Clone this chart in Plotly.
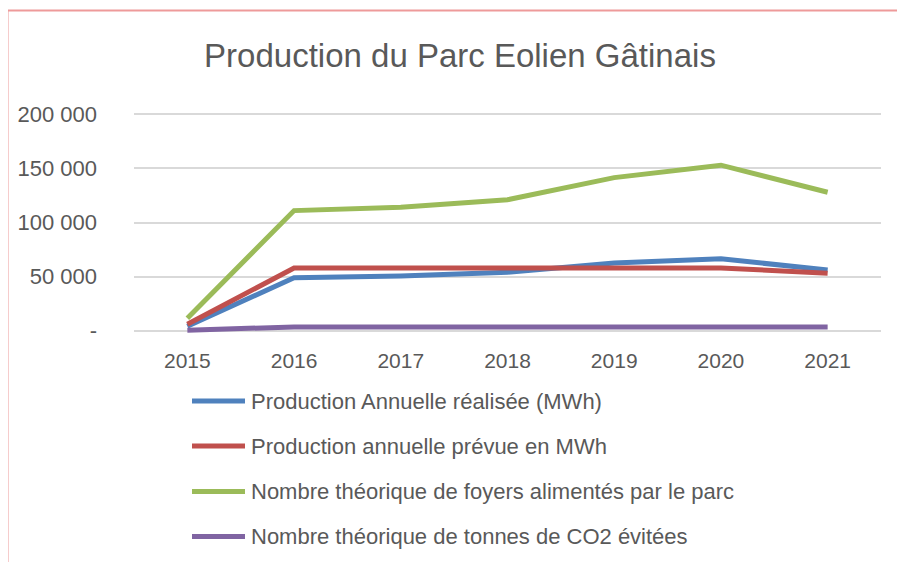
import plotly.graph_objects as go

years = ["2015", "2016", "2017", "2018", "2019", "2020", "2021"]
production_realisee = [4000, 49000, 50500, 54000, 62500, 66500, 56000]
production_prevue = [6000, 58000, 58000, 58000, 58000, 58000, 53000]
foyers = [11500, 111000, 114000, 121000, 141500, 153000, 128000]
co2_evite = [500, 3400, 3400, 3400, 3400, 3500, 3500]

series_names = [
    "Production Annuelle réalisée (MWh)",
    "Production annuelle prévue en MWh",
    "Nombre théorique de foyers alimentés par le parc",
    "Nombre théorique de tonnes de CO2 évitées",
]
series_values = [production_realisee, production_prevue, foyers, co2_evite]
series_colors = ["#4F81BD", "#C0504D", "#9BBB59", "#8064A2"]

y_tickvals = [0, 50000, 100000, 150000, 200000]
y_ticktext = ["-", "50 000", "100 000", "150 000", "200 000"]

FONT = "Liberation Sans, Arial, sans-serif"
TXT = "#595959"

fig = go.Figure()
for i, (name, vals, col) in enumerate(zip(series_names, series_values, series_colors)):
    fig.add_trace(go.Scatter(
        x=years, y=vals, name=name, mode="lines",
        line=dict(color=col, width=5),
        showlegend=False,
    ))

# page has an 8px body margin: work in screen px and convert
O = 8
W, H = 905 - O, 562 - O
L, R, T, B = 134 - O, 881 - O, 110 - O, 335 - O  # figure px


def xp(sx):
    return (sx - O - L) / (R - L)


def yp(sy):
    return (B - (sy - O)) / (B - T)


border_col = "#EE9A9A"
fig.add_shape(type="line", xref="paper", yref="paper",
              x0=xp(7.5), x1=xp(7.5), y0=yp(575), y1=yp(10.5),
              line=dict(color=border_col, width=2))
fig.add_shape(type="line", xref="paper", yref="paper",
              x0=xp(7.5), x1=xp(915), y0=yp(10.5), y1=yp(10.5),
              line=dict(color=border_col, width=2))

# legend drawn manually (keeps margins fixed)
legend_y = [401, 446, 491.5, 536.5]
for name, col, ly in zip(series_names, series_colors, legend_y):
    fig.add_shape(type="line", xref="paper", yref="paper",
                  x0=xp(192), x1=xp(245), y0=yp(ly), y1=yp(ly),
                  line=dict(color=col, width=5))
    fig.add_annotation(xref="paper", yref="paper", x=xp(249), y=yp(ly),
                       xanchor="left", yanchor="middle", showarrow=False,
                       text=name, font=dict(family=FONT, size=22, color=TXT))

fig.update_layout(
    width=W, height=H,
    margin=dict(l=L, r=W - R, t=T, b=H - B, autoexpand=False),
    paper_bgcolor="white", plot_bgcolor="white",
    font=dict(family=FONT, color=TXT),
    title=dict(text="Production du Parc Eolien Gâtinais",
               x=(460 - O) / W, xanchor="center", y=1 - (55 - O) / H, yanchor="middle",
               font=dict(family=FONT, size=33, color=TXT)),
    showlegend=False,
    xaxis=dict(type="category", range=[-0.5, 6.5], showgrid=False,
               showline=False, zeroline=False, ticks="",
               tickfont=dict(family=FONT, size=21, color=TXT),
               ticklabelstandoff=11, fixedrange=True),
    yaxis=dict(range=[-4000, 204000], tickvals=y_tickvals, ticktext=y_ticktext,
               showgrid=True, gridcolor="#D9D9D9", gridwidth=2,
               zeroline=False, showline=False, ticks="",
               tickfont=dict(family=FONT, size=22, color=TXT),
               ticklabelstandoff=36, fixedrange=True),
)

fig.write_html("out.html")
